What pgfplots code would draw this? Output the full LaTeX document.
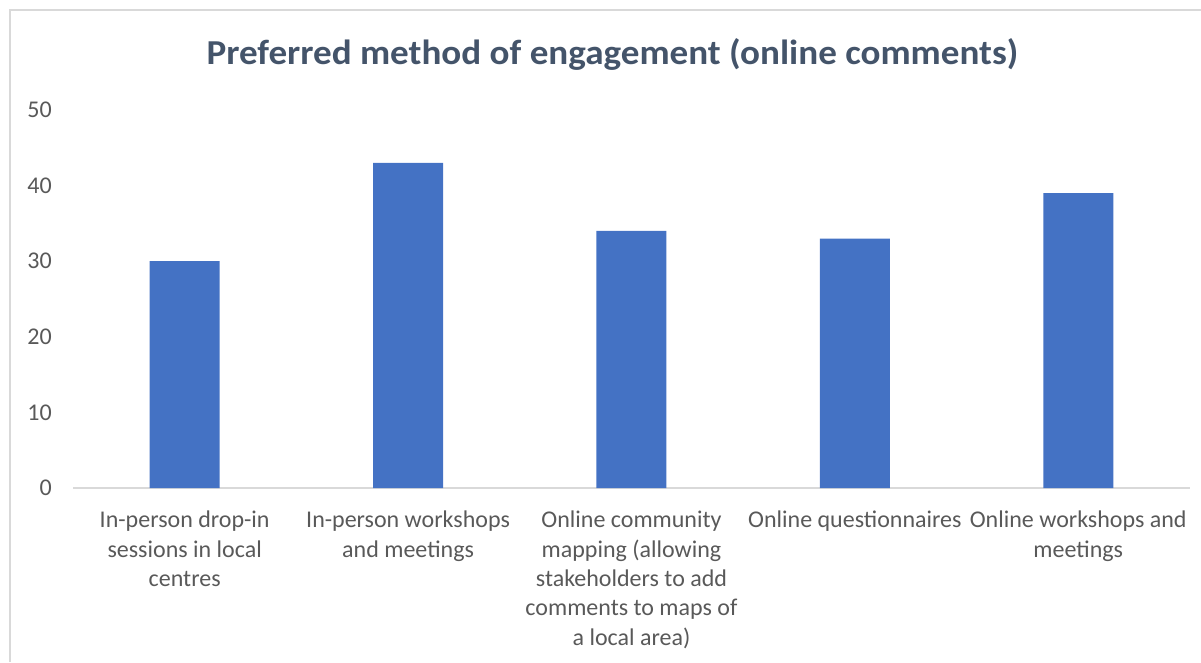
\documentclass[border=0pt]{standalone}
\usepackage{pgfplots}
\pgfplotsset{compat=1.18}
\usepackage{graphicx}
\usepackage{fontspec}
\setmainfont{Carlito}
\definecolor{barblue}{HTML}{4472C4}
\definecolor{titlecol}{HTML}{44546A}
\definecolor{labcol}{HTML}{595959}
\definecolor{linecol}{HTML}{D9D9D9}
\begin{document}
\begin{tikzpicture}[x=1pt,y=1pt]
\path[use as bounding box] (0,0) rectangle (1201,662);
\draw[linecol, line width=1.5pt] (10,0) -- (10,652) -- (1201,652);
\node[font=\fontsize{35}{40}\selectfont\bfseries, text=titlecol, anchor=base, inner sep=0pt] at (612.5,597) {\scalebox{1.06}[1]{Preferred method of engagement (online comments)}};
\begin{axis}[
  at={(73pt,174pt)}, anchor=south west,
  scale only axis, width=1117pt, height=378pt,
  xmin=-0.5, xmax=4.5, ymin=0, ymax=50,
  ybar, bar width=70pt,
  ytick={0,10,20,30,40,50},
  xtick={0,1,2,3,4},
  xticklabels={{In-person drop-in\\sessions in local\\centres},
               {In-person workshops\\and meetings},
               {Online community\\mapping (allowing\\stakeholders to add\\comments to maps of\\a local area)},
               {Online questionnaires},
               {Online workshops and\\meetings}},
  separate axis lines,
  axis x line*=bottom,
  axis y line*=left,
  x axis line style={draw=linecol, line width=1.5pt, -},
  y axis line style={draw=none},
  major tick length=0pt,
  tick style={draw=none},
  /pgf/number format/assume math mode=true,
  yticklabel style={font=\fontsize{24}{29.3}\selectfont, text=labcol, anchor=east, inner sep=0pt, xshift=-21pt},
  xticklabel style={font=\fontsize{24}{29.3}\selectfont, text=labcol, align=center, anchor=north, inner sep=0pt, yshift=-23pt},
  clip=false,
]
\addplot[fill=barblue, draw=none] coordinates {(0,30) (1,43) (2,34) (3,33) (4,39)};
\end{axis}
\end{tikzpicture}
\end{document}
